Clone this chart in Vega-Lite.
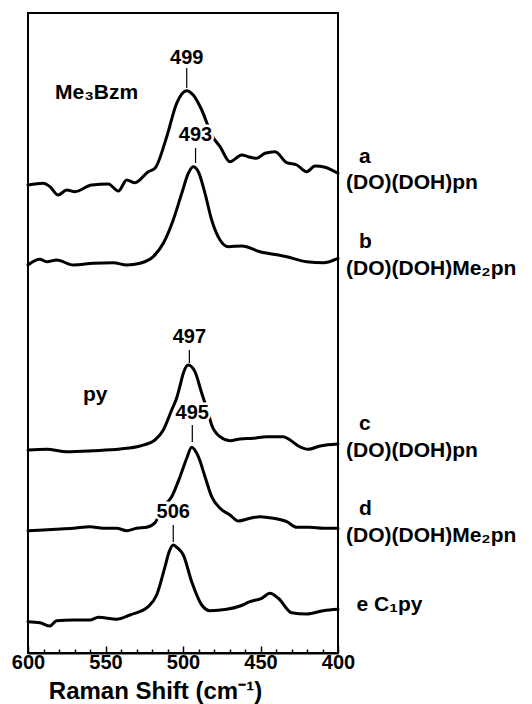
{
  "$schema": "https://vega.github.io/schema/vega-lite/v6.json",
  "width": 310,
  "height": 640,
  "autosize": "none",
  "padding": {"left": 28, "top": 13, "right": 194, "bottom": 51},
  "config": {
    "font": "Liberation Sans",
    "view": {"stroke": "black", "strokeWidth": 2}
  },
  "datasets": {
    "spectra": [
      {"s":"a","x":600,"y":468},{"s":"a","x":590.1,"y":469.7},{"s":"a","x":585.8,"y":466.3},{"s":"a","x":580.5,"y":458},{"s":"a","x":575,"y":463},{"s":"a","x":569.7,"y":461.3},{"s":"a","x":558.9,"y":468},{"s":"a","x":548.2,"y":469},{"s":"a","x":541.7,"y":462},{"s":"a","x":536.3,"y":473},{"s":"a","x":531,"y":470.3},{"s":"a","x":522.4,"y":481.3},{"s":"a","x":518.1,"y":484.7},{"s":"a","x":510.5,"y":516.3},{"s":"a","x":504.1,"y":549.7},{"s":"a","x":497.6,"y":562.3},{"s":"a","x":493.4,"y":558},{"s":"a","x":487.9,"y":543},{"s":"a","x":481.5,"y":518},{"s":"a","x":476.1,"y":506.3},{"s":"a","x":469.7,"y":491.3},{"s":"a","x":462.1,"y":498},{"s":"a","x":457.9,"y":496.3},{"s":"a","x":452.5,"y":494.7},{"s":"a","x":447.1,"y":499.7},{"s":"a","x":440.6,"y":501.3},{"s":"a","x":433.1,"y":490.3},{"s":"a","x":426.6,"y":488},{"s":"a","x":420.2,"y":481.3},{"s":"a","x":414.8,"y":487},{"s":"a","x":408.4,"y":485.7},{"s":"a","x":400,"y":479.7},
      {"s":"b","x":600,"y":388},{"s":"b","x":592.3,"y":393.7},{"s":"b","x":587.9,"y":391.3},{"s":"b","x":581.5,"y":393},{"s":"b","x":570.8,"y":388},{"s":"b","x":557.9,"y":389.7},{"s":"b","x":545,"y":390.3},{"s":"b","x":536.3,"y":388},{"s":"b","x":527.7,"y":389.7},{"s":"b","x":519.2,"y":396.3},{"s":"b","x":512.7,"y":409.7},{"s":"b","x":506.3,"y":433},{"s":"b","x":500.8,"y":459.7},{"s":"b","x":496.6,"y":479.7},{"s":"b","x":493.4,"y":486.3},{"s":"b","x":490.1,"y":481.3},{"s":"b","x":485.8,"y":459.7},{"s":"b","x":481.5,"y":433},{"s":"b","x":476.1,"y":413},{"s":"b","x":470.8,"y":406.3},{"s":"b","x":462.1,"y":407},{"s":"b","x":450.3,"y":401.3},{"s":"b","x":433.1,"y":396.3},{"s":"b","x":420.2,"y":391.3},{"s":"b","x":409.5,"y":390.3},{"s":"b","x":400,"y":394.7},
      {"s":"c","x":600,"y":203},{"s":"c","x":587.9,"y":203.7},{"s":"c","x":575,"y":201.3},{"s":"c","x":557.9,"y":202.3},{"s":"c","x":540.6,"y":204},{"s":"c","x":527.7,"y":207},{"s":"c","x":518.1,"y":213},{"s":"c","x":512.7,"y":223},{"s":"c","x":507.3,"y":243},{"s":"c","x":504.1,"y":255},{"s":"c","x":501.8,"y":268},{"s":"c","x":499.8,"y":279.7},{"s":"c","x":496.6,"y":288},{"s":"c","x":492.3,"y":281.3},{"s":"c","x":487.9,"y":259.7},{"s":"c","x":483.7,"y":239.7},{"s":"c","x":481.5,"y":228},{"s":"c","x":476.1,"y":216.3},{"s":"c","x":469.7,"y":212.3},{"s":"c","x":463.2,"y":214},{"s":"c","x":454.6,"y":214.7},{"s":"c","x":446,"y":216.3},{"s":"c","x":435.3,"y":216.3},{"s":"c","x":430.9,"y":213},{"s":"c","x":425.6,"y":207},{"s":"c","x":419.2,"y":203.7},{"s":"c","x":411.6,"y":207},{"s":"c","x":400,"y":209},
      {"s":"d","x":600,"y":122.3},{"s":"d","x":590.1,"y":123},{"s":"d","x":581.5,"y":123.7},{"s":"d","x":570.8,"y":124.7},{"s":"d","x":560,"y":126.3},{"s":"d","x":551.4,"y":124.7},{"s":"d","x":542.8,"y":124.7},{"s":"d","x":536.3,"y":122.3},{"s":"d","x":529.9,"y":124.7},{"s":"d","x":523.4,"y":125.7},{"s":"d","x":518.1,"y":130.3},{"s":"d","x":512.7,"y":146.3},{"s":"d","x":507.3,"y":156.3},{"s":"d","x":501.9,"y":176.3},{"s":"d","x":497.6,"y":194.7},{"s":"d","x":494.4,"y":205.7},{"s":"d","x":490.1,"y":196.3},{"s":"d","x":485.8,"y":176.3},{"s":"d","x":481.5,"y":156.3},{"s":"d","x":476.1,"y":144.7},{"s":"d","x":469.7,"y":138},{"s":"d","x":464.3,"y":132},{"s":"d","x":456.8,"y":134.7},{"s":"d","x":450.3,"y":136.3},{"s":"d","x":441.7,"y":134.7},{"s":"d","x":433.1,"y":131.3},{"s":"d","x":426.6,"y":125.7},{"s":"d","x":418.1,"y":125.7},{"s":"d","x":409.5,"y":124.7},{"s":"d","x":400,"y":124.7},
      {"s":"e","x":600,"y":31.3},{"s":"e","x":592.3,"y":30.3},{"s":"e","x":585.8,"y":27},{"s":"e","x":581.5,"y":32.3},{"s":"e","x":570.8,"y":33},{"s":"e","x":560,"y":33},{"s":"e","x":554.6,"y":35.7},{"s":"e","x":542.8,"y":33.7},{"s":"e","x":534.2,"y":38},{"s":"e","x":522.4,"y":46.3},{"s":"e","x":517,"y":58},{"s":"e","x":511.6,"y":86.3},{"s":"e","x":509,"y":101},{"s":"e","x":506.3,"y":108},{"s":"e","x":503.5,"y":105},{"s":"e","x":499.8,"y":98},{"s":"e","x":494.4,"y":71.3},{"s":"e","x":487.9,"y":48},{"s":"e","x":482.6,"y":42.3},{"s":"e","x":471.8,"y":43.7},{"s":"e","x":463.2,"y":47},{"s":"e","x":456.8,"y":51.3},{"s":"e","x":449.2,"y":54.7},{"s":"e","x":443.9,"y":59.7},{"s":"e","x":438.5,"y":54.7},{"s":"e","x":430,"y":40.3},{"s":"e","x":420.2,"y":39},{"s":"e","x":409.5,"y":42.3},{"s":"e","x":400,"y":43.7}
    ],
    "peaks": [
      {"label":"499","x":497.6,"y":565,"y2":585,"ty":595},
      {"label":"493","x":491.9,"y":490,"y2":505,"ty":518},
      {"label":"497","x":495.9,"y":290,"y2":303,"ty":316},
      {"label":"495","x":494.0,"y":211,"y2":228,"ty":240},
      {"label":"506","x":506.3,"y":111,"y2":128,"ty":141}
    ],
    "labels": [
      {"text":"Me₃Bzm","x":582.6,"y":560},
      {"text":"py","x":564.5,"y":258},
      {"text":"a","x":386.5,"y":496},
      {"text":"(DO)(DOH)pn","x":394.8,"y":470},
      {"text":"b","x":386.5,"y":411},
      {"text":"(DO)(DOH)Me₂pn","x":394.8,"y":384},
      {"text":"c","x":386.5,"y":229},
      {"text":"(DO)(DOH)pn","x":394.8,"y":202},
      {"text":"d","x":386.5,"y":144},
      {"text":"(DO)(DOH)Me₂pn","x":394.8,"y":117},
      {"text":"e  C₁py","x":388,"y":48}
    ]
  },
  "resolve": {"axis": {"x": "independent"}},
  "layer": [
    {
      "data": {"name": "spectra"},
      "mark": {"type": "line", "color": "black", "strokeWidth": 3, "interpolate": "monotone", "strokeJoin": "round", "strokeCap": "round"},
      "encoding": {
        "x": {"field": "x", "type": "quantitative", "scale": {"domain": [400, 600], "reverse": true, "nice": false, "zero": false},
          "axis": {"orient": "bottom", "values": [400, 450, 500, 550, 600], "tickSize": -7, "tickWidth": 1.5, "tickColor": "black", "domain": true, "domainColor": "black", "domainWidth": 2, "grid": false, "labelFontSize": 20, "labelFontWeight": "bold", "labelColor": "black", "labelPadding": 6, "labelFlush": false, "labelOverlap": false, "labelFont": "Liberation Sans",
            "title": "Raman Shift (cm⁻¹)", "titleFont": "Liberation Sans", "titleFontSize": 24, "titleFontWeight": "bold", "titleColor": "black", "titleX": 127, "titleY": 45, "titleBaseline": "alphabetic", "titleAnchor": null, "titleAlign": "center"}},
        "y": {"field": "y", "type": "quantitative", "scale": {"domain": [0, 640], "nice": false, "zero": false}, "axis": null},
        "detail": {"field": "s"}
      }
    },
    {
      "data": {"name": "peaks"},
      "mark": {"type": "rule", "color": "black", "strokeWidth": 1.2},
      "encoding": {
        "x": {"field": "x", "type": "quantitative", "scale": {"domain": [400, 600], "reverse": true, "nice": false, "zero": false},
          "axis": {"orient": "bottom", "values": [410, 420, 430, 440, 460, 470, 480, 490, 510, 520, 530, 540, 560, 570, 580, 590], "tickSize": -4, "tickWidth": 1.5, "tickColor": "black", "domain": false, "labels": false, "grid": false, "title": null}},
        "y": {"field": "y", "type": "quantitative", "scale": {"domain": [0, 640], "nice": false, "zero": false}, "axis": null},
        "y2": {"field": "y2"}
      }
    },
    {
      "data": {"name": "peaks"},
      "mark": {"type": "text", "font": "Liberation Sans", "fontSize": 20, "fontWeight": "bold", "align": "center", "baseline": "middle", "stroke": "white", "strokeWidth": 5, "fill": "white"},
      "encoding": {
        "x": {"field": "x", "type": "quantitative", "scale": {"domain": [400, 600], "reverse": true, "nice": false, "zero": false}, "axis": null},
        "y": {"field": "ty", "type": "quantitative", "scale": {"domain": [0, 640], "nice": false, "zero": false}, "axis": null},
        "text": {"field": "label"}
      }
    },
    {
      "data": {"name": "peaks"},
      "mark": {"type": "text", "font": "Liberation Sans", "fontSize": 20, "fontWeight": "bold", "align": "center", "baseline": "middle", "color": "black"},
      "encoding": {
        "x": {"field": "x", "type": "quantitative", "scale": {"domain": [400, 600], "reverse": true, "nice": false, "zero": false}, "axis": null},
        "y": {"field": "ty", "type": "quantitative", "scale": {"domain": [0, 640], "nice": false, "zero": false}, "axis": null},
        "text": {"field": "label"}
      }
    },
    {
      "data": {"name": "labels"},
      "mark": {"type": "text", "font": "Liberation Sans", "fontSize": 21, "fontWeight": "bold", "align": "left", "baseline": "middle", "color": "black"},
      "encoding": {
        "x": {"field": "x", "type": "quantitative", "scale": {"domain": [400, 600], "reverse": true, "nice": false, "zero": false}, "axis": null},
        "y": {"field": "y", "type": "quantitative", "scale": {"domain": [0, 640], "nice": false, "zero": false}, "axis": null},
        "text": {"field": "text"}
      }
    }
  ]
}
